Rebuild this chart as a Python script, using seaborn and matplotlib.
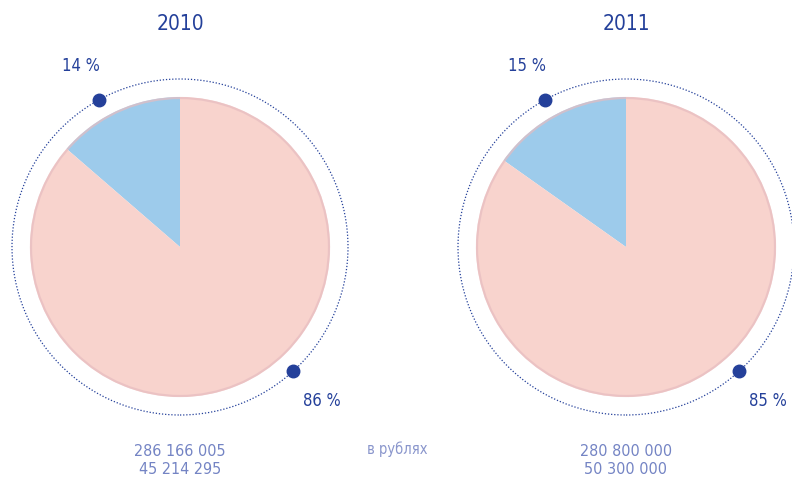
import numpy as np
import matplotlib
matplotlib.use("Agg")
from matplotlib import pyplot as plt
from matplotlib.patches import Circle
import seaborn as sns

years = ["2010", "2011"]
# first value -> blue slice, second -> pink slice
small_part = [45214295, 50300000]
big_part = [286166005, 280800000]
small_labels = ["45 214 295", "50 300 000"]
big_labels = ["286 166 005", "280 800 000"]
pct_small = ["14 %", "15 %"]
pct_big = ["86 %", "85 %"]
unit_text = "в рублях"

colors = ["#9dcbeb", "#f8d3cd"]
dark_blue = "#24409a"
light_blue = "#7484c4"

sns.set_style("white")
plt.rcParams['font.family'] = ['DejaVu Sans']
plt.rcParams['font.stretch'] = 'condensed'

fig = plt.figure(figsize=(7.92, 4.79), dpi=100)
ax = fig.add_axes([0, 0, 1, 1])

centers_x = [180, 626]
cy = 232          # pie center in figure pixels (y up)
r_pie = 150
r_ring = 168

for i, year in enumerate(years):
    cx = centers_x[i]
    ax.pie([small_part[i], big_part[i]], colors=colors, startangle=90,
           counterclock=True, center=(cx, cy), radius=r_pie,
           wedgeprops=dict(linewidth=0), frame=True)
    # soft rim like the shaded original
    ax.add_patch(Circle((cx, cy), r_pie - 1, fill=False, ec="#e6bcc0", lw=1.6, alpha=0.7))
    ax.add_patch(Circle((cx, cy), r_ring, fill=False, ec=dark_blue, lw=0.9, ls=(0, (1, 1.5))))

    # marker dots on the ring
    for ang in (119, -47.5):
        a = np.deg2rad(ang)
        ax.plot(cx + r_ring * np.cos(a), cy + r_ring * np.sin(a), 'o',
                color=dark_blue, ms=9, zorder=5)

    ax.text(cx, 455, year, ha='center', va='center', fontsize=15, color=dark_blue)
    ax.text(cx - 99, 413, pct_small[i], ha='center', va='center', fontsize=12, color=dark_blue)
    ax.text(cx + 142, 78, pct_big[i], ha='center', va='center', fontsize=12, color=dark_blue)
    ax.text(cx, 28, big_labels[i], ha='center', va='center', fontsize=11.5, color=light_blue)
    ax.text(cx, 10, small_labels[i], ha='center', va='center', fontsize=11.5, color=light_blue)

ax.text(397, 30, unit_text, ha='center', va='center', fontsize=10.5, color="#8a96cc")

ax.set_xlim(0, 792)
ax.set_ylim(0, 479)
ax.set_aspect('equal')
ax.axis('off')

fig.savefig("out.png", dpi=100)
